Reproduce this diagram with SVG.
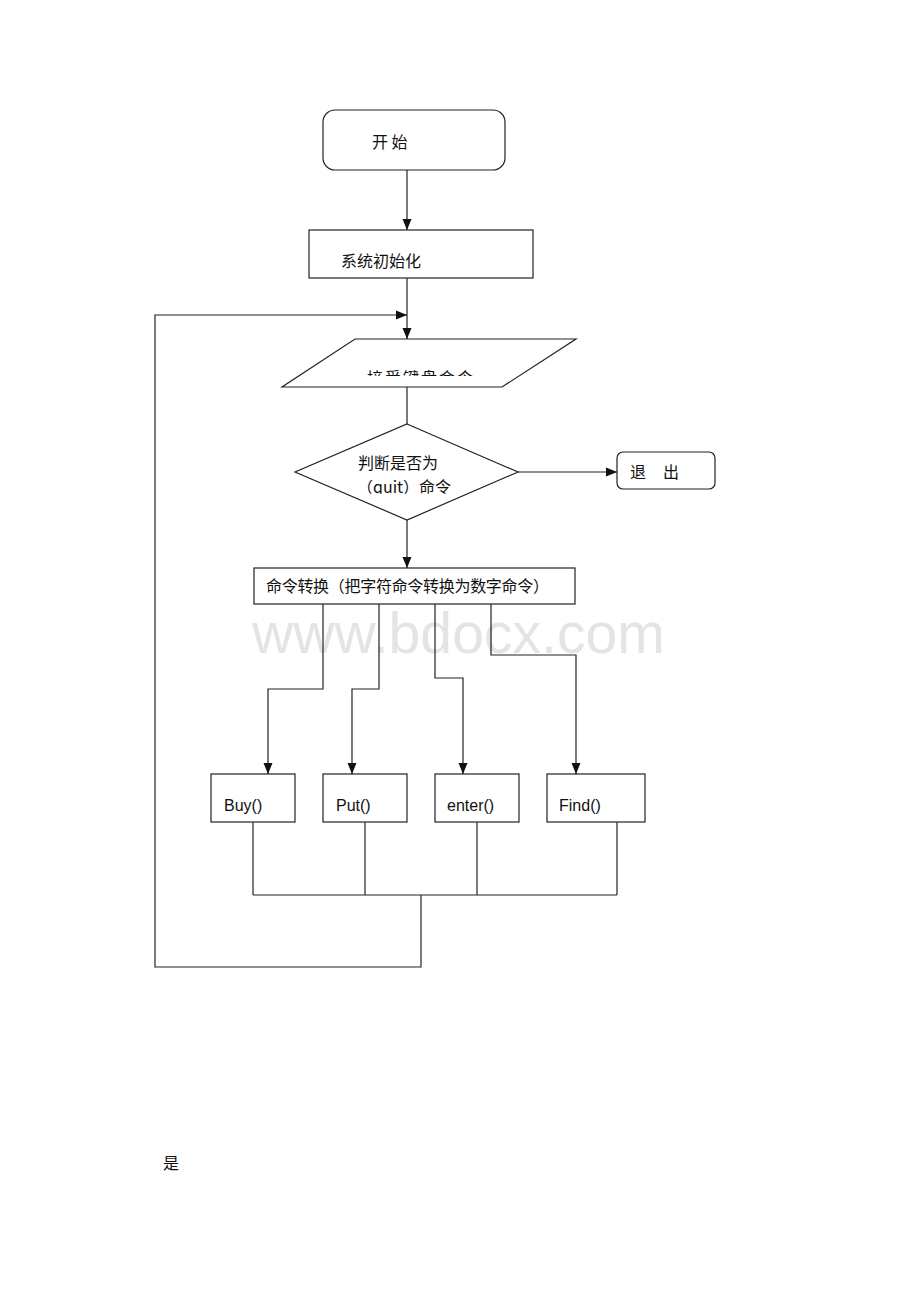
<svg xmlns="http://www.w3.org/2000/svg" width="920" height="1302" viewBox="0 0 920 1302">
<style>
.box{fill:#fff;stroke:#222;stroke-width:1.2}
.ln{fill:none;stroke:#222;stroke-width:1.2}
.arr{marker-end:url(#ah)}
.t{font-family:"Liberation Sans","Noto Sans CJK SC",sans-serif;font-size:16px;fill:#111}
.c{font-family:"Noto Sans CJK SC","Liberation Sans",sans-serif;font-size:16px;fill:#111}
.wm{font-family:"Liberation Sans",Arial,sans-serif;font-size:57px;fill:#e4e4e4}
</style>
<defs>
<marker id="ah" markerWidth="11" markerHeight="10" refX="11" refY="5" orient="auto" markerUnits="userSpaceOnUse">
<path d="M0,0.5 L11,5 L0,9.5 Z" fill="#111"/>
</marker>
<clipPath id="clipIn"><rect x="280" y="340" width="300" height="36"/></clipPath>
<clipPath id="clipQ"><rect x="290" y="476" width="220" height="17.8"/></clipPath>
</defs>
<rect width="920" height="1302" fill="#fff"/>
<text class="wm" x="252" y="653" textLength="413" lengthAdjust="spacingAndGlyphs">www.bdocx.com</text>
<g id="connectors">
<line class="ln arr" x1="407" y1="170" x2="407" y2="230"/>
<line class="ln arr" x1="407" y1="278" x2="407" y2="339"/>
<polyline class="ln arr" points="421,895 421,967 155,967 155,315 407,315"/>
<line class="ln" x1="407" y1="387" x2="407" y2="424"/>
<line class="ln arr" x1="518" y1="472" x2="617" y2="472"/>
<line class="ln arr" x1="407" y1="520" x2="407" y2="568"/>
<polyline class="ln arr" points="323,604 323,689 268,689 268,774"/>
<polyline class="ln arr" points="379,604 379,689 352,689 352,774"/>
<polyline class="ln arr" points="435,604 435,678 463,678 463,774"/>
<polyline class="ln arr" points="491,604 491,655 576,655 576,774"/>
<line class="ln" x1="253" y1="822" x2="253" y2="895"/>
<line class="ln" x1="365" y1="822" x2="365" y2="895"/>
<line class="ln" x1="477" y1="822" x2="477" y2="895"/>
<line class="ln" x1="617" y1="822" x2="617" y2="895"/>
<line class="ln" x1="253" y1="895" x2="617" y2="895"/>
</g>
<g id="start">
<rect class="box" x="323" y="110" width="182" height="60" rx="12"/>
<text class="c" x="372" y="148">开 始</text>
</g>
<g id="init">
<rect class="box" x="309" y="230" width="224" height="48"/>
<text class="c" x="341" y="267">系统初始化</text>
</g>
<g id="input">
<polygon class="box" points="355,339 576,339 502,387 282,387"/>
<text class="c" x="367" y="384" clip-path="url(#clipIn)" textLength="106">接受键盘命令</text>
</g>
<g id="decision">
<polygon class="box" points="407,424 518,472 407,520 295,472"/>
<text class="c" x="358" y="469" font-size="15">判断是否为</text>
<text class="c" x="357" y="493" font-size="15" clip-path="url(#clipQ)">（quit）命令</text>
</g>
<g id="exit">
<rect class="box" x="617" y="452" width="98" height="37" rx="6"/>
<text class="c" x="630" y="478" textLength="49">退 出</text>
</g>
<g id="convert">
<rect class="box" x="254" y="568" width="321" height="36"/>
<text class="c" x="266" y="592" font-size="15.5" textLength="283">命令转换（把字符命令转换为数字命令）</text>
</g>
<g id="buy">
<rect class="box" x="211" y="774" width="84" height="48"/>
<text class="t" x="224" y="811">Buy()</text>
</g>
<g id="put">
<rect class="box" x="323" y="774" width="84" height="48"/>
<text class="t" x="336" y="811">Put()</text>
</g>
<g id="enter">
<rect class="box" x="435" y="774" width="84" height="48"/>
<text class="t" x="447" y="811">enter()</text>
</g>
<g id="find">
<rect class="box" x="547" y="774" width="98" height="48"/>
<text class="t" x="559" y="811">Find()</text>
</g>
<text class="c" x="163" y="1169" font-size="23">是</text>
</svg>
